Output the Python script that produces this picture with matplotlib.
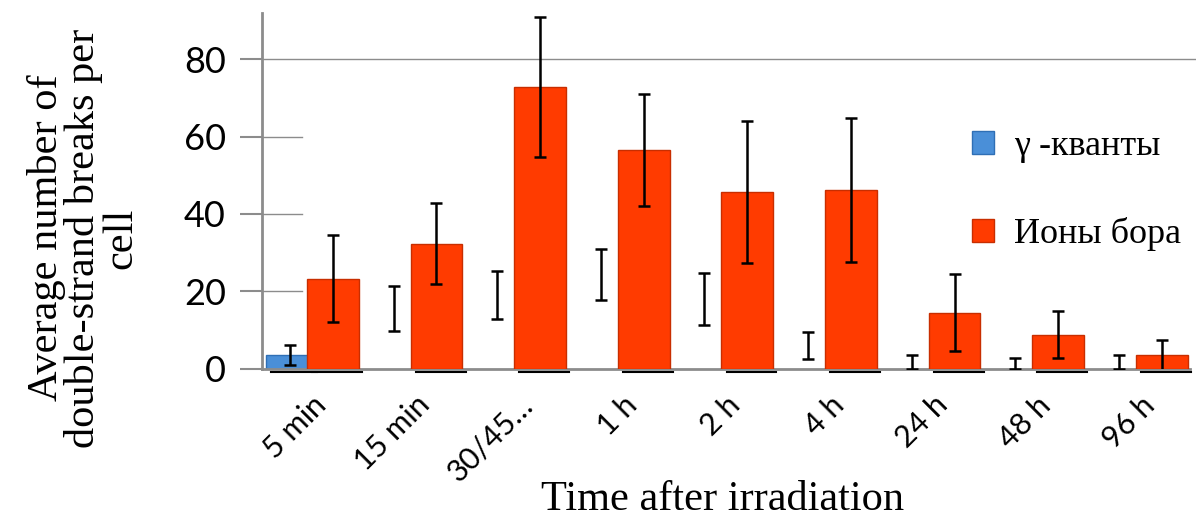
import matplotlib
matplotlib.use("Agg")
import matplotlib.pyplot as plt
import matplotlib.transforms as mtransforms
from matplotlib.patches import Patch
import numpy as np

# --- data ---
times = ["5 min", "15 min", "30/45…", "1 h", "2 h", "4 h", "24 h", "48 h", "96 h"]
gamma_mean = [3.5, 15.6, 18.9, 24.3, 18.0, 6.0, 1.8, 1.4, 1.7]
gamma_err = [2.5, 5.8, 6.2, 6.6, 6.8, 3.5, 1.8, 1.4, 1.8]
boron_mean = [23.2, 32.3, 72.8, 56.5, 45.7, 46.2, 14.4, 8.7, 3.4]
boron_err = [11.3, 10.5, 18.0, 14.5, 18.4, 18.7, 10.0, 6.1, 4.1]
yticks = [0, 20, 40, 60, 80]

serif = ["Liberation Serif", "DejaVu Serif"]
sans = ["Lato", "DejaVu Sans"]
blue = "#4a8fd8"
red = "#ff3b00"
grey = "#8c8c8c"

fig = plt.figure(figsize=(11.96, 5.21), dpi=100)
ax = fig.add_axes([0.219, 0.2927, 0.776, 0.682])

x = np.arange(len(times))
off = 0.207
w = 0.5

# gamma bars: only the first one is rendered in the original picture
gbars = ax.bar(x - off, gamma_mean, 0.46, color=blue, edgecolor="#2f6fb5",
               linewidth=1, zorder=2)
for b in gbars[1:]:
    b.set_visible(False)
rbars = ax.bar(x + off, boron_mean, w, color=red, edgecolor="#c82e00",
               linewidth=1, zorder=3)

ax.errorbar(x - off, gamma_mean, yerr=gamma_err, fmt="none", ecolor="black",
            elinewidth=1.8, capsize=4.5, capthick=1.8, zorder=4)
ax.errorbar(x + off, boron_mean, yerr=boron_err, fmt="none", ecolor="black",
            elinewidth=1.8, capsize=4.5, capthick=1.8, zorder=4)

# thin black shadow lines under the bars
shadow = mtransforms.offset_copy(ax.transData, fig=fig, x=0, y=-3, units="dots")
for b in list(rbars) + [gbars[0]]:
    x0 = b.get_x()
    ax.plot([x0 + 0.05, x0 + b.get_width() + 0.03], [0, 0], color="black", lw=1.5,
            transform=shadow, clip_on=False, zorder=1)

ax.set_xlim(-0.478, 8.48)
ax.set_ylim(0, 91.9)

# gridlines: full at the top, short stubs for the rest
ax.axhline(80, color=grey, lw=1, zorder=0, xmax=1.01, clip_on=False)
for yv in yticks[1:-1]:
    ax.axhline(yv, xmin=0, xmax=0.043, color=grey, lw=1, zorder=0)

for s in ["top", "right"]:
    ax.spines[s].set_visible(False)
for s in ["left", "bottom"]:
    ax.spines[s].set_color(grey)
    ax.spines[s].set_linewidth(2)

ax.set_yticks(yticks)
ax.tick_params(axis="y", length=16, width=1.5, color=grey, labelsize=26, pad=10)
ax.set_xticks(x)
ax.set_xticklabels(times, rotation=45, ha="right", rotation_mode="anchor",
                   fontsize=22)
ax.tick_params(axis="x", length=0, pad=16)
for lab in ax.get_yticklabels() + ax.get_xticklabels():
    lab.set_family(sans)

fig.text(0.07, 0.543, "Average number of\ndouble-strand breaks per\ncell",
         rotation=90, ha="center", va="center", multialignment="center",
         family=serif, fontsize=30.5, linespacing=0.95)
fig.text(0.604, 0.04, "Time after irradiation", ha="center", va="center",
         family=serif, fontsize=30.5)

handles = [Patch(facecolor=blue, edgecolor="#2f6fb5"),
           Patch(facecolor=red, edgecolor="#c82e00")]
fig.legend(handles, ["γ -кванты", "Ионы бора"], loc="upper left",
           bbox_to_anchor=(0.8127, 0.75), frameon=False,
           prop={"family": serif, "size": 26},
           handlelength=0.62, handleheight=0.62, handletextpad=0.55,
           labelspacing=1.5, borderpad=0, borderaxespad=0)

fig.savefig("out.png", dpi=100)
